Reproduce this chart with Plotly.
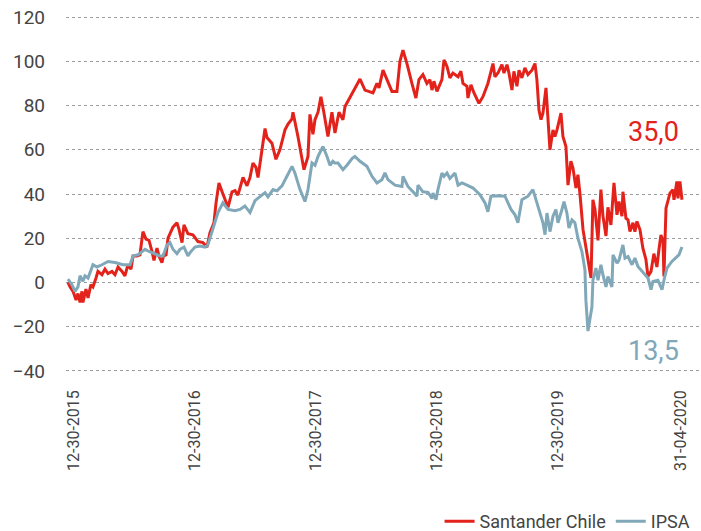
import plotly.graph_objects as go

# x values: years since 30-Dec-2015
red_t = [-0.050, -0.033, -0.008, 0.017, 0.033, 0.050, 0.066, 0.074, 0.099, 0.116,
         0.140, 0.157, 0.182, 0.198, 0.231, 0.256, 0.281, 0.314, 0.339, 0.364,
         0.397, 0.421, 0.446, 0.471, 0.488, 0.521, 0.545, 0.570, 0.595, 0.620,
         0.645, 0.661, 0.686, 0.702, 0.727, 0.744, 0.760, 0.777, 0.818, 0.851,
         0.868, 0.893, 0.909, 0.942, 0.983, 1.025, 1.066, 1.099, 1.124, 1.157,
         1.174, 1.198, 1.231, 1.273, 1.306, 1.331, 1.355, 1.397, 1.430, 1.455,
         1.479, 1.504, 1.521, 1.554, 1.579, 1.595, 1.636, 1.669, 1.702, 1.744,
         1.769, 1.802, 1.810, 1.851, 1.901, 1.934, 1.950, 1.975, 1.992, 2.017,
         2.041, 2.066, 2.099, 2.132, 2.157, 2.190, 2.223, 2.240, 2.298, 2.364,
         2.405, 2.430, 2.471, 2.504, 2.521, 2.554, 2.587, 2.628, 2.669, 2.694,
         2.719, 2.752, 2.793, 2.826, 2.851, 2.884, 2.917, 2.942, 2.959, 2.975,
         3.000, 3.041, 3.058, 3.083, 3.107, 3.132, 3.174, 3.198, 3.215, 3.248,
         3.256, 3.281, 3.306, 3.331, 3.347, 3.380, 3.421, 3.463, 3.479, 3.504,
         3.537, 3.554, 3.579, 3.595, 3.620, 3.636, 3.661, 3.678, 3.702, 3.727,
         3.752, 3.785, 3.810, 3.826, 3.843, 3.860, 3.876, 3.901, 3.917, 3.934,
         3.959, 3.975, 3.992, 4.025, 4.041, 4.066, 4.083, 4.107, 4.124, 4.149,
         4.165, 4.182, 4.207, 4.240, 4.273, 4.289, 4.306, 4.331, 4.355, 4.372,
         4.397, 4.413, 4.438, 4.463, 4.488, 4.504, 4.529, 4.537, 4.562, 4.579,
         4.595, 4.620, 4.636, 4.653, 4.678, 4.702, 4.727, 4.744, 4.769, 4.793,
         4.818, 4.835, 4.851, 4.868, 4.876, 4.893, 4.909, 4.926, 4.950, 4.959,
         4.983, 4.992, 5.008, 5.025]
santander = [0, -2, -4, -8, -5, -9, -4, -9, -3, -7,
             -1, -2, 2, 5, 3.5, 6, 4, 5, 3.5, 7,
             5, 3, 8, 6, 12, 12, 12.5, 23, 19.6, 19,
             14, 10, 15.5, 12, 9, 13, 12, 20, 25, 27,
             24, 18, 26, 22, 21.5, 18.5, 18, 16, 22.5, 27,
             36, 45, 40, 34, 41, 41.5, 39.5, 47.5, 43.7, 47.5,
             54, 52, 47.5, 60, 69.6, 65.5, 63, 55.7, 60, 69,
             71.6, 74, 77, 66, 51, 57, 76, 67, 73.6, 77,
             84, 76.6, 66, 77, 67.6, 77, 73.6, 79.6, 85.7, 92,
             87, 86.4, 85.7, 90, 88, 96, 91.7, 86.4, 86.4, 100,
             105, 99, 90, 83.4, 91.7, 94, 90, 91.7, 87, 91,
             86.4, 91.7, 100.7, 97.7, 92.5, 94.7, 93, 95.5, 90, 88.7,
             83.4, 89.4, 85.7, 82.7, 81, 84, 90, 99, 93, 94.7,
             98.5, 94.7, 98.5, 94.7, 87, 95.5, 88.7, 96, 92.5, 97,
             94, 96, 99, 91.7, 78, 73.6, 76.6, 88, 72, 60,
             69, 66, 69, 76.6, 66, 61.5, 44, 54.8, 51.7, 42.7,
             48.7, 40, 24, 13, 2, 37.4, 33, 19, 42, 30,
             21, 34, 26, 45, 30.6, 36.6, 30, 41, 29, 28.3,
             23, 27, 23, 27.6, 23.8, 15.5, 10.4, 2.7, 5, 13,
             7, 15, 21.5, 19, 2.7, 33.6, 37.4, 40.4, 42, 37.4,
             45.7, 38, 45.7, 37.4]

ipsa_t = [-0.050, -0.033, -0.017, 0.008, 0.033, 0.050, 0.074, 0.091, 0.116, 0.157,
          0.190, 0.231, 0.281, 0.339, 0.405, 0.463, 0.488, 0.529, 0.587, 0.620,
          0.669, 0.711, 0.736, 0.769, 0.793, 0.818, 0.851, 0.876, 0.909, 0.942,
          0.959, 0.983, 1.000, 1.041, 1.083, 1.107, 1.149, 1.190, 1.231, 1.273,
          1.331, 1.372, 1.413, 1.455, 1.496, 1.537, 1.579, 1.603, 1.645, 1.678,
          1.719, 1.760, 1.802, 1.826, 1.868, 1.909, 1.934, 1.967, 1.992, 2.017,
          2.058, 2.091, 2.116, 2.140, 2.157, 2.182, 2.223, 2.256, 2.298, 2.322,
          2.364, 2.421, 2.463, 2.504, 2.545, 2.570, 2.595, 2.653, 2.711, 2.719,
          2.760, 2.802, 2.835, 2.843, 2.884, 2.926, 2.959, 2.967, 2.992, 3.008,
          3.041, 3.058, 3.083, 3.107, 3.132, 3.149, 3.174, 3.207, 3.248, 3.298,
          3.355, 3.397, 3.421, 3.446, 3.504, 3.562, 3.612, 3.645, 3.669, 3.702,
          3.752, 3.793, 3.835, 3.876, 3.893, 3.909, 3.934, 3.959, 3.983, 4.000,
          4.033, 4.050, 4.074, 4.091, 4.116, 4.140, 4.165, 4.198, 4.223, 4.231,
          4.248, 4.281, 4.289, 4.314, 4.331, 4.355, 4.372, 4.397, 4.413, 4.446,
          4.455, 4.488, 4.504, 4.537, 4.554, 4.579, 4.612, 4.636, 4.661, 4.694,
          4.719, 4.744, 4.769, 4.785, 4.826, 4.860, 4.876, 4.901, 4.942, 4.983,
          5.000, 5.025]
ipsa = [1.5, 0, -1, -4, -2, 3, 0.5, 3, 2, 8,
        7, 8, 9.5, 9, 8, 8, 12, 12.5, 15, 14,
        13, 12, 12, 17, 18, 15, 13, 15, 16, 12,
        13.5, 15, 16, 16.5, 16, 17, 24, 31.6, 36, 33,
        32.4, 33, 34.6, 31.6, 37, 39, 40.6, 38.7, 42, 41.4,
        43.7, 48, 52.5, 49.5, 42, 36.6, 42, 54, 53, 57,
        61.5, 57, 53, 54.8, 54, 54, 51, 53, 56, 57,
        54.8, 52.5, 48, 45, 46.5, 49.5, 46.5, 44, 43.4, 48,
        43.4, 41, 39, 44, 41, 40.7, 38, 40.4, 37.4, 42,
        49.5, 48, 49.5, 47, 48.7, 49.5, 44, 45, 44, 42.7,
        39.7, 36, 32, 39, 39.2, 39, 33, 30.6, 27, 37.4,
        39, 42, 34.4, 27, 21.6, 31.4, 23, 30, 33, 27,
        33, 36.6, 31.4, 24.6, 28.3, 27, 20, 14, 5.7, -8,
        -22, -11, 1, 6.5, 1, 8, 3.4, -2, 2.7, -2,
        12.5, 8.7, 10, 17, 11, 11.7, 8, 11, 7.2, 5,
        3.4, 2, -3.3, 0.4, 1, -3.3, 1, 6.5, 9.5, 11.7,
        12.5, 16]

tick_vals = [0, 1, 2, 3, 4, 5.017]
tick_text = ["12-30-2015", "12-30-2016", "12-30-2017", "12-30-2018", "12-30-2019", "31-04-2020"]
y_ticks = [-40, -20, 0, 20, 40, 60, 80, 100, 120]
last_santander = "35,0"
last_ipsa = "13,5"

RED = "#E3231B"
BLUE = "#80A8B9"
FONT = "Roboto"
TXT = "#444444"

fig = go.Figure()
fig.add_trace(go.Scatter(x=red_t, y=santander, mode="lines", name="Santander Chile",
                         line=dict(color=RED, width=3)))
fig.add_trace(go.Scatter(x=ipsa_t, y=ipsa, mode="lines", name="IPSA",
                         line=dict(color=BLUE, width=3)))

fig.add_annotation(x=4.79, y=68, xref="x", yref="y", text=last_santander, showarrow=False,
                   font=dict(family=FONT, size=27, color=RED), xanchor="center", yanchor="middle")
fig.add_annotation(x=4.79, y=-31, xref="x", yref="y", text=last_ipsa, showarrow=False,
                   font=dict(family=FONT, size=27, color=BLUE), xanchor="center", yanchor="middle")

fig.update_layout(
    width=701, height=531,
    margin=dict(l=66, r=1, t=16, b=159, autoexpand=False),
    paper_bgcolor="white", plot_bgcolor="white",
    font=dict(family=FONT, color=TXT),
    showlegend=True,
    legend=dict(orientation="h", x=0.993, xanchor="right", y=-0.42, yanchor="middle",
                font=dict(family=FONT, size=18, color=TXT), traceorder="normal",
                itemwidth=30),
    xaxis=dict(range=[-0.066, 5.174], tickmode="array", tickvals=tick_vals, ticktext=tick_text,
               tickangle=-90, showgrid=False, zeroline=False, showline=False, ticks="",
               automargin=False,
               tickfont=dict(family=FONT, size=16, color=TXT), ticklabelstandoff=14),
    yaxis=dict(range=[-40.5, 120.5], tickmode="array", tickvals=y_ticks,
               showgrid=True, gridcolor="#9a9fa4", gridwidth=1, griddash="dot",
               zeroline=False, showline=False, ticks="", automargin=False,
               tickfont=dict(family=FONT, size=19, color=TXT), ticklabelstandoff=20),
)

fig.write_html("out.html", config={"displayModeBar": False},
               post_script="document.body.style.margin='0px';")
